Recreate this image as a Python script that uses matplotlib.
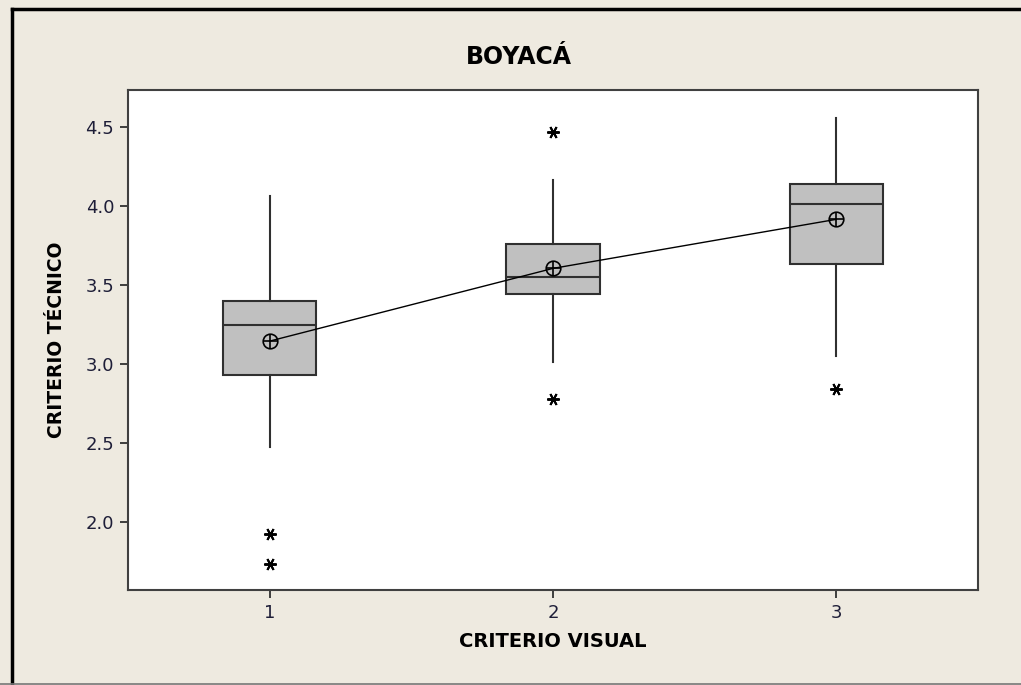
import matplotlib.pyplot as plt
from matplotlib.lines import Line2D

# box summary per visual score group
groups = [1, 2, 3]
q1 = [2.93, 3.443, 3.635]
medians = [3.244, 3.553, 4.014]
q3 = [3.40, 3.758, 4.139]
whislo = [2.475, 3.014, 3.05]
whishi = [4.066, 4.166, 4.557]
means = [3.145, 3.606, 3.917]
outliers = [[1.924, 1.729], [4.472, 2.777], [2.839]]

bg = '#eeeae0'
ink = '#303030'

fig = plt.figure(figsize=(10.21, 6.85), dpi=100, facecolor=bg)
ax = fig.add_axes([128 / 1021, 1 - 590 / 685, 850 / 1021, 500 / 685])
ax.set_facecolor('white')

stats = []
for i in range(len(groups)):
    stats.append(dict(med=medians[i], q1=q1[i], q3=q3[i],
                      whislo=whislo[i], whishi=whishi[i],
                      fliers=outliers[i], mean=means[i], label=str(groups[i])))

ax.bxp(stats, positions=groups, widths=0.33, patch_artist=True,
       showcaps=False, showfliers=True, showmeans=False,
       boxprops=dict(facecolor='#c0c0c0', edgecolor=ink, linewidth=1.5),
       medianprops=dict(color=ink, linewidth=1.5),
       whiskerprops=dict(color=ink, linewidth=1.5),
       flierprops=dict(marker=(6, 2, 90), markersize=9, markeredgewidth=1.4,
                       markeredgecolor='black', linestyle='none'))

# mean connect line with circled-plus symbols
ax.plot(groups, means, color='black', linewidth=1.0, zorder=4)
ax.plot(groups, means, linestyle='none', marker='o', markersize=10.5,
        markerfacecolor='none', markeredgecolor='black', markeredgewidth=1.2, zorder=5)
ax.plot(groups, means, linestyle='none', marker='+', markersize=10.5,
        markeredgecolor='black', markeredgewidth=1.2, zorder=5)

ax.set_xlim(0.5, 3.5)
ax.set_ylim(1.567, 4.737)
ax.set_xticks(groups)
ax.set_xticklabels([str(g) for g in groups])
ax.set_yticks([2.0, 2.5, 3.0, 3.5, 4.0, 4.5])
ax.set_yticklabels(['2.0', '2.5', '3.0', '3.5', '4.0', '4.5'])

for s in ax.spines.values():
    s.set_color('#404040')
    s.set_linewidth(1.5)
ax.tick_params(direction='out', length=6, width=1.3, color='#303030',
               labelsize=13, labelcolor='#1e1e38', pad=4)

ax.set_xlabel('CRITERIO VISUAL', fontsize=14, fontweight='bold', labelpad=7)
ax.set_ylabel('CRITERIO TÉCNICO', fontsize=13.5, fontweight='bold', labelpad=14)
fig.text(0.508, 1 - 57 / 685, 'BOYACÁ', ha='center', va='center',
         fontsize=17, fontweight='bold')

# window frame
fig.add_artist(Line2D([11.5 / 1021, 11.5 / 1021], [0, 1 - 8.5 / 685],
                      transform=fig.transFigure, color='black', linewidth=2.5))
fig.add_artist(Line2D([11.5 / 1021, 1], [1 - 8.5 / 685, 1 - 8.5 / 685],
                      transform=fig.transFigure, color='black', linewidth=2.5))
fig.add_artist(Line2D([0, 1], [1.5 / 685, 1.5 / 685],
                      transform=fig.transFigure, color='#777777', linewidth=1.2))

fig.savefig('out.png', dpi=100, facecolor=bg)
